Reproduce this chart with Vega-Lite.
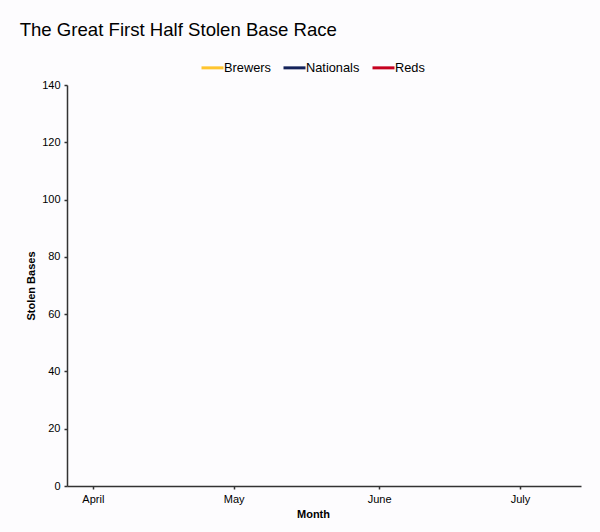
{
  "$schema": "https://vega.github.io/schema/vega-lite/v6.json",
  "width": 514,
  "height": 401,
  "autosize": {"type": "none"},
  "padding": {"left": 67, "top": 85, "right": 19, "bottom": 46},
  "background": "#fdfcfe",
  "title": {
    "text": "The Great First Half Stolen Base Race",
    "anchor": "start",
    "font": "Liberation Sans",
    "fontSize": 18.6,
    "fontWeight": "normal",
    "color": "black",
    "dx": -6,
    "offset": 0,
    "dy": -15
  },
  "data": {
    "values": [
      {"date": "2019/03/28", "team": "Brewers", "steals": 0},
      {"date": "2019/03/28", "team": "Nationals", "steals": 0},
      {"date": "2019/03/28", "team": "Reds", "steals": 0}
    ]
  },
  "mark": {"type": "line", "strokeWidth": 3},
  "encoding": {
    "x": {
      "field": "date",
      "type": "temporal",
      "title": "Month",
      "scale": {
        "domain": [
          {"year": 2019, "month": 3, "date": 26, "hours": 12},
          {"year": 2019, "month": 7, "date": 14}
        ]
      },
      "axis": {
        "values": [
          {"year": 2019, "month": 4, "date": 1},
          {"year": 2019, "month": 5, "date": 1},
          {"year": 2019, "month": 6, "date": 1},
          {"year": 2019, "month": 7, "date": 1}
        ],
        "format": "%B",
        "labelAngle": 0,
        "titleX": 246,
        "titlePadding": 4
      }
    },
    "y": {
      "field": "steals",
      "type": "quantitative",
      "title": "Stolen Bases",
      "scale": {"domain": [0, 140], "nice": false},
      "axis": {"values": [0, 20, 40, 60, 80, 100, 120, 140], "titlePadding": 5}
    },
    "color": {
      "field": "team",
      "type": "nominal",
      "scale": {
        "domain": ["Brewers", "Nationals", "Reds"],
        "range": ["#FFC52F", "#14225A", "#C6011F"]
      },
      "legend": {
        "title": null,
        "orient": "none",
        "direction": "horizontal",
        "legendX": 133,
        "legendY": -30,
        "symbolType": "stroke",
        "symbolSize": 484,
        "symbolStrokeWidth": 3,
        "labelOffset": -1,
        "columnPadding": 6,
        "labelFont": "Liberation Sans",
        "labelFontSize": 12.8,
        "labelColor": "black"
      }
    }
  },
  "config": {
    "view": {"stroke": null},
    "axis": {
      "grid": false,
      "domainColor": "#333333",
      "domainWidth": 1.5,
      "tickColor": "#333333",
      "tickWidth": 1.5,
      "tickSize": 3,
      "labelPadding": 4,
      "labelFont": "Liberation Sans",
      "labelFontSize": 11,
      "labelColor": "black",
      "titleFont": "Liberation Sans",
      "titleFontSize": 11,
      "titleFontWeight": "bold",
      "titleColor": "black"
    }
  }
}
